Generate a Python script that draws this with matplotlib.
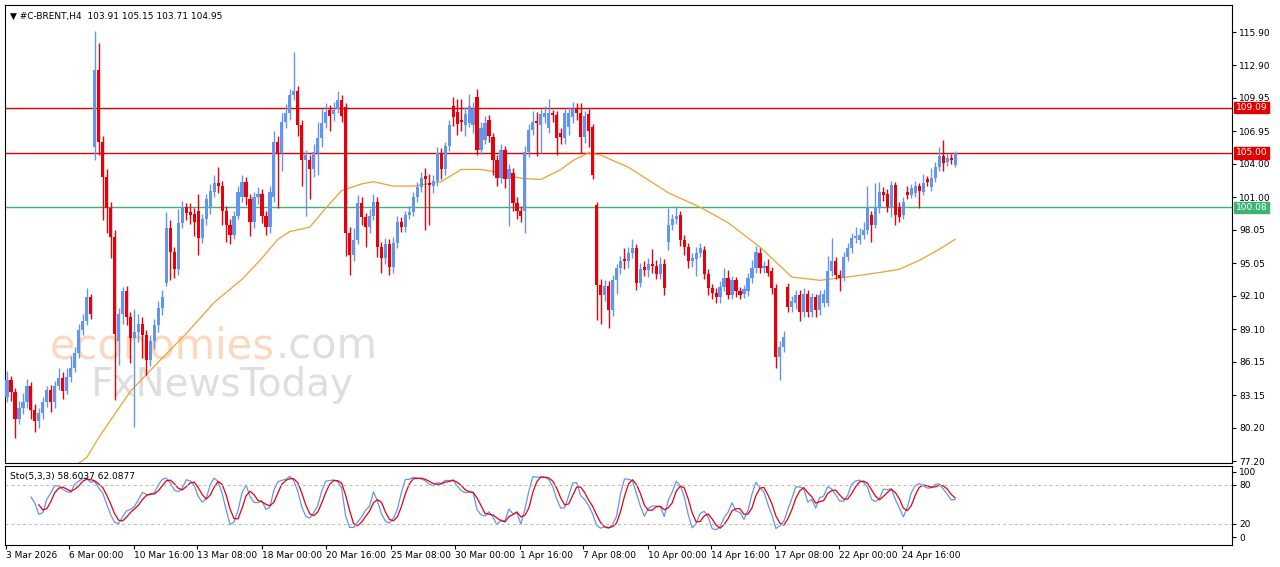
import numpy as np
import pandas as pd
import matplotlib
matplotlib.use("Agg")
import matplotlib.pyplot as plt

opens = [83.0,84.5,83.4,81.0,82.0,82.5,84.0,81.8,80.8,81.5,
 82.5,83.6,82.5,84.0,84.7,83.5,84.8,85.6,86.9,89.0,
 89.8,92.0,105.5,112.5,106.0,102.8,100.0,97.4,88.0,90.5,
 92.5,90.2,88.3,88.8,89.6,88.6,86.3,88.0,89.5,91.0,
 93.3,98.2,96.1,94.5,98.7,100.1,99.7,99.5,99.8,97.3,
 99.0,100.0,101.5,102.3,102.0,99.8,98.5,97.6,99.3,101.0,
 102.4,100.8,98.8,101.0,101.3,99.3,98.3,101.0,106.0,105.0,
 107.8,108.6,110.2,110.6,107.5,104.4,104.4,103.5,105.0,106.3,
 107.7,108.9,108.5,109.0,109.8,109.1,97.8,95.8,97.1,100.5,
 99.2,98.3,99.3,100.6,96.5,95.5,96.8,94.7,96.9,98.8,
 98.3,99.4,99.7,101.0,101.9,102.9,102.3,102.0,102.5,105.0,
 103.5,105.6,109.2,108.7,108.0,107.5,107.7,107.5,110.0,105.3,
 106.2,108.0,106.4,104.4,102.7,105.3,102.6,103.2,100.5,99.8,
 99.8,105.1,107.1,107.9,107.5,108.2,107.2,108.6,108.4,106.8,
 106.3,107.3,108.2,109.0,108.6,106.4,108.5,107.3,100.3,93.1,
 92.2,93.0,90.8,93.5,94.6,95.4,95.2,96.0,96.4,93.3,
 94.7,94.4,95.0,94.8,94.1,95.0,97.0,98.5,99.0,99.4,
 97.1,96.5,95.2,95.4,96.0,96.2,94.1,92.8,92.4,92.0,
 92.9,93.7,92.2,93.5,92.5,92.3,92.5,93.7,94.6,96.0,
 94.6,94.8,94.3,92.8,86.6,87.5,92.9,91.1,91.5,92.2,
 90.6,92.3,90.6,92.0,90.8,91.5,91.5,94.3,95.2,94.0,
 93.7,95.6,96.4,97.3,97.1,97.6,98.0,99.4,98.5,100.1,
 101.5,101.3,100.1,102.1,100.1,99.4,101.5,101.2,101.4,102.0,
 101.5,102.6,101.9,102.7,103.7,104.7,104.2,104.5,103.91]
closes = [84.5,83.4,81.0,82.0,82.5,84.0,81.8,80.8,81.5,82.5,
 83.6,82.5,84.0,84.7,83.5,84.8,85.6,86.9,89.0,89.8,
 92.0,90.5,112.5,106.0,102.8,100.0,97.4,88.7,90.5,92.5,
 90.2,88.3,88.8,89.6,88.6,86.3,88.0,89.5,91.0,92.0,
 98.2,96.1,94.5,98.7,100.1,99.6,99.4,98.8,97.3,99.0,
 100.8,101.6,102.3,102.0,99.8,98.5,97.6,99.3,101.5,102.4,
 101.0,98.8,101.0,101.3,99.3,98.3,101.5,106.0,105.0,107.8,
 108.6,110.2,110.6,107.5,104.4,104.8,103.5,105.1,106.3,107.7,
 108.7,108.3,108.9,109.8,108.3,97.8,95.8,97.1,100.5,99.2,
 98.3,99.3,100.6,96.5,95.5,96.8,94.7,96.9,98.8,98.3,
 99.4,99.7,101.0,101.9,102.7,102.6,102.1,102.5,105.0,103.5,
 105.6,107.5,108.2,107.6,107.8,108.5,109.2,109.0,105.3,107.2,
 107.7,106.5,104.4,102.7,105.3,102.6,103.5,100.5,99.8,99.3,
 105.1,107.1,107.8,107.7,108.5,108.6,108.6,108.4,106.3,106.4,
 108.6,108.6,109.0,108.6,106.4,108.3,107.0,103.0,93.1,92.2,
 93.0,90.8,93.5,94.6,95.2,95.2,96.0,96.4,93.3,94.5,
 94.4,95.0,94.8,94.1,95.0,92.8,98.5,99.0,99.3,97.1,
 96.5,95.2,95.5,96.0,96.4,94.1,92.8,92.4,92.0,92.9,
 93.7,92.2,93.5,92.5,92.2,92.7,93.7,94.6,96.1,94.6,
 94.8,94.2,92.8,86.6,87.5,88.4,91.1,91.6,92.2,90.6,
 92.3,90.6,92.0,90.8,92.2,92.3,94.3,95.2,94.0,93.7,
 95.6,96.4,97.3,97.5,97.6,98.0,100.1,98.5,100.1,101.5,
 101.2,100.1,102.1,99.4,99.2,100.6,101.2,101.8,102.0,101.6,
 102.3,102.4,102.7,103.7,104.7,104.1,104.5,104.4,104.95]
highs = [85.3,84.9,83.8,82.6,83.3,84.6,84.3,82.3,82.0,83.0,
 84.0,84.1,84.4,85.6,85.2,85.6,86.7,87.5,89.6,90.5,
 92.8,92.3,116.0,114.9,106.5,103.5,100.6,98.0,91.0,92.9,
 93.0,90.6,90.9,90.5,90.2,89.0,88.6,90.0,91.6,92.6,
 99.7,98.9,96.5,99.9,100.7,100.5,100.5,100.0,101.3,99.5,
 101.3,102.2,103.0,103.7,102.5,100.2,99.0,99.8,102.0,103.0,
 102.8,101.3,101.5,101.9,101.7,99.8,102.0,107.0,106.5,108.6,
 109.4,110.8,114.1,111.0,108.0,105.3,104.8,105.8,107.8,109.0,
 109.5,109.3,109.6,110.6,110.2,109.5,98.3,98.2,101.2,101.0,
 99.6,99.9,101.3,101.0,97.0,97.3,97.2,97.4,99.3,99.2,
 99.8,100.2,101.5,102.4,103.3,103.6,103.1,103.0,105.5,105.4,
 106.0,108.0,110.0,109.9,109.9,109.1,110.3,109.6,110.8,107.8,
 108.3,108.4,106.8,104.8,105.8,105.6,104.0,103.6,101.0,100.2,
 105.6,107.6,108.8,108.7,109.0,109.2,109.9,108.9,108.8,107.2,
 109.0,109.1,109.6,109.5,109.5,108.8,109.0,107.6,100.6,93.6,
 93.5,93.4,94.0,95.0,95.7,96.4,96.5,97.2,96.8,95.1,
 95.2,95.5,96.3,95.3,95.6,95.4,100.0,99.5,100.2,99.8,
 97.6,96.9,96.0,96.5,96.9,96.6,94.5,93.2,92.8,93.4,
 94.6,94.4,93.9,93.8,92.9,93.1,94.2,95.3,96.6,96.4,
 95.2,95.4,94.7,93.2,88.0,88.9,93.3,92.1,92.6,92.6,
 92.8,92.6,92.4,92.3,92.6,92.7,95.7,97.3,95.6,94.4,
 96.1,96.9,97.8,98.3,98.2,98.8,102.0,99.8,102.3,102.4,
 101.9,101.7,102.5,102.4,100.6,101.0,102.0,102.2,102.5,102.3,
 103.1,102.9,103.6,104.2,105.5,106.2,105.0,104.9,105.15]
lows = [82.5,82.6,79.3,80.5,81.4,82.0,81.0,79.8,80.2,81.0,
 82.1,81.6,82.0,83.6,82.8,83.2,84.3,85.2,86.5,88.6,
 89.5,90.0,104.4,104.8,98.9,97.8,95.5,82.7,85.9,89.6,
 89.5,86.0,80.3,87.9,86.5,85.0,85.8,87.3,88.8,90.4,
 93.0,93.5,93.7,94.0,98.2,98.9,98.6,97.5,95.8,96.9,
 98.5,99.5,101.0,101.4,98.5,97.0,96.8,97.2,99.0,100.6,
 100.3,97.5,98.2,100.4,98.7,97.6,97.8,100.6,100.0,103.4,
 107.2,108.0,109.8,106.5,102.0,99.3,100.8,102.8,103.0,105.5,
 107.2,107.0,107.9,108.6,107.8,95.7,94.0,95.2,96.8,98.5,
 96.5,97.8,98.9,95.6,94.2,95.0,94.0,94.2,96.4,97.9,
 97.9,99.0,99.3,100.6,101.5,98.0,98.5,101.4,102.0,102.6,
 103.0,105.2,107.4,106.6,107.0,106.5,107.3,106.8,104.8,104.9,
 105.8,106.0,103.0,102.0,102.3,101.8,98.4,99.8,99.0,98.8,
 97.8,104.6,106.6,104.7,105.0,107.7,106.8,107.8,104.8,105.8,
 105.8,106.6,107.7,108.0,105.0,105.9,105.5,102.6,89.9,89.6,
 91.6,89.2,90.3,92.3,94.1,94.5,94.6,95.5,92.6,92.9,
 93.9,93.8,94.2,93.6,93.6,92.2,96.2,98.0,98.6,96.6,
 95.8,94.6,94.7,93.9,95.6,93.6,92.2,91.8,91.5,91.5,
 92.5,91.8,91.8,92.0,91.8,91.9,92.1,93.3,94.2,94.2,
 94.2,93.9,92.3,85.6,84.5,87.0,90.6,90.6,90.9,89.8,
 90.2,90.2,90.2,90.2,90.4,91.1,91.2,93.9,93.6,92.5,
 93.4,95.2,96.0,96.9,96.8,97.2,97.7,97.0,98.2,99.6,
 100.7,99.7,99.2,98.5,98.8,99.0,100.8,100.9,101.0,100.0,
 101.2,102.0,101.6,102.4,103.4,103.4,103.8,104.0,103.71]

ma_bar = [18,20,23,31,39,45,52,59,64,68,71,76,80,84,89,92,97,102,109,114,119,124,
          129,134,139,142,146,149,156,166,174,181,189,197,204,211,219,224,229,234,238]
ma_val = [77.0,77.5,79.3,83.5,86.5,88.7,91.5,93.6,95.5,97.2,97.9,98.3,100.0,101.6,102.2,102.4,
          102.0,102.0,102.4,103.5,103.5,103.2,102.7,102.6,103.5,104.3,105.0,104.8,103.7,101.4,
          100.1,98.7,96.5,93.8,93.5,93.8,94.2,94.5,95.3,96.3,97.2]

levels = [109.09, 105.00, 100.08]
level_labels = ["109.09", "105.00", "100.08"]
price_ticks = [115.90,112.90,109.95,106.95,104.00,101.00,98.05,95.05,92.10,89.10,86.15,83.15,80.20,77.20]
date_labels = ["3 Mar 2026","6 Mar 00:00","10 Mar 16:00","13 Mar 08:00","18 Mar 00:00","20 Mar 16:00",
               "25 Mar 08:00","30 Mar 00:00","1 Apr 16:00","7 Apr 08:00","10 Apr 00:00","14 Apr 16:00",
               "17 Apr 08:00","22 Apr 00:00","24 Apr 16:00"]
date_bars = [-0.2,15.6,32,47.8,64.1,80.2,96.3,112.4,128.8,144.7,161,176.8,192.7,208.8,224.6]

o = np.array(opens); c = np.array(closes); h = np.array(highs); l = np.array(lows)
n = len(c)
idx = np.arange(n)

BLUE = "#6495ED"; RED = "#E8000B"
fig = plt.figure(figsize=(12.8, 5.67), dpi=100)
ax = fig.add_axes([5/1280, 104/567, 1227/1280, 458/567])
ax2 = fig.add_axes([5/1280, 22/567, 1227/1280, 79/567])

up = c >= o
cols = np.where(up, BLUE, RED)
ax.vlines(idx, l, h, colors=cols, linewidth=1, zorder=3)
bottoms = np.minimum(o, c)
heights = np.maximum(np.abs(c - o), 0.08)
ax.bar(idx, heights, bottom=bottoms, width=0.8, color=cols, linewidth=0, zorder=4)

ax.plot(ma_bar, ma_val, color="#F0A030", linewidth=0.9, zorder=2)

lcols = ["#E00000", "#E00000", "#3CB371"]
for lv, lab, lc in zip(levels, level_labels, lcols):
    ax.axhline(lv, color=lc, linewidth=1.0, zorder=1)
    ax.text(1.003, lv, lab, transform=ax.get_yaxis_transform(), color="white", fontsize=6.5,
            va="center", ha="left", bbox=dict(boxstyle="square,pad=0.15", fc=lc, ec=lc), zorder=6,
            clip_on=False)

ax.set_xlim(-0.5, 307.5)
ax.set_ylim(77.02, 118.34)
ax.yaxis.tick_right()
ax.set_yticks(price_ticks)
ax.set_yticklabels([f"{v:.2f}" for v in price_ticks], fontsize=6.5)
ax.set_xticks([])
ax.tick_params(axis="y", length=3, pad=2)

ax.text(0.004, 0.985, "▼ #C-BRENT,H4  103.91 105.15 103.71 104.95", transform=ax.transAxes,
        fontsize=6.5, va="top", ha="left")
t1 = ax.text(45/1227, 0.255, "economies", transform=ax.transAxes, fontsize=30,
             color="#FBCFAE", alpha=0.8, va="center", ha="left", zorder=1)
fig.canvas.draw()
bb = t1.get_window_extent().transformed(ax.transAxes.inverted())
ax.text(bb.x1, 0.255, ".com", transform=ax.transAxes, fontsize=30,
        color="#D8D8D8", alpha=0.8, va="center", ha="left", zorder=1)
ax.text(85/1227, 0.17, "FxNewsToday", transform=ax.transAxes, fontsize=28,
        color="#D0D0D0", alpha=0.7, va="center", ha="left", zorder=1)

# Stochastic (5,3,3)
hh = pd.Series(h).rolling(5).max(); ll = pd.Series(l).rolling(5).min()
num = (pd.Series(c) - ll).rolling(3).sum(); den = (hh - ll).rolling(3).sum()
k = 100 * num / den
d = k.rolling(3).mean()
ax2.plot(idx, k, color=BLUE, linewidth=0.9)
ax2.plot(idx, d, color=RED, linewidth=0.9)
for lv in (80, 20):
    ax2.axhline(lv, color="#B8B8B8", linewidth=0.7, linestyle=(0, (3, 3)))
ax2.set_xlim(-0.5, 307.5)
ax2.set_ylim(-12.3, 109.2)
ax2.yaxis.tick_right()
ax2.set_yticks([100, 80, 20, 0])
ax2.set_yticklabels(["100", "80", "20", "0"], fontsize=6.5)
ax2.tick_params(axis="y", length=3, pad=2)
ax2.set_xticks(date_bars)
ax2.set_xticklabels(date_labels, fontsize=6.5, ha="left")
ax2.tick_params(axis="x", length=3, pad=1)
ax2.text(0.004, 0.93, "Sto(5,3,3) 58.6037 62.0877", transform=ax2.transAxes, fontsize=6.5, va="top")

for a in (ax, ax2):
    for s in a.spines.values():
        s.set_linewidth(0.8)

fig.savefig("out.png", dpi=100)
